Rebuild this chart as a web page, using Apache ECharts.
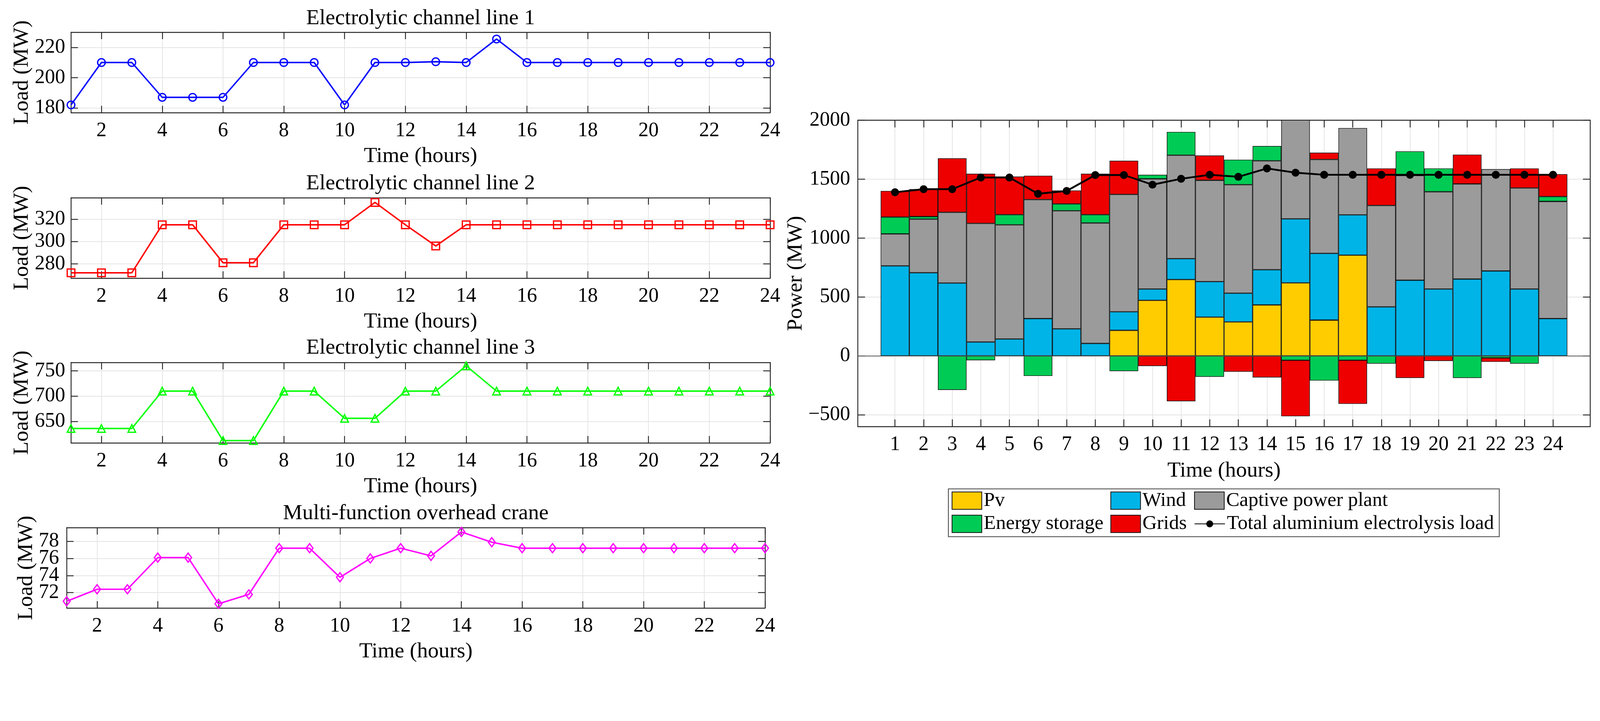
<!DOCTYPE html>
<html>
<head>
<meta charset="utf-8">
<title>Aluminium electrolysis load and power supply</title>
<script src="https://cdn.jsdelivr.net/npm/echarts@6/dist/echarts.min.js"></script>
<style>
  html, body { margin: 0; padding: 0; background: #fff; overflow: hidden; }
  #main { width: 100vw; height: 100vh; }
</style>
</head>
<body>
<div id="main"></div>
<script>
// ---- data ----
var hours = [1, 2, 3, 4, 5, 6, 7, 8, 9, 10, 11, 12, 13, 14, 15, 16, 17, 18, 19, 20, 21, 22, 23, 24];
var evenHours = [2, 4, 6, 8, 10, 12, 14, 16, 18, 20, 22, 24];

var line1Load = [182, 210, 210, 187, 187, 187, 210, 210, 210, 182, 210, 210, 210.5, 210, 225.5, 210, 210, 210, 210, 210, 210, 210, 210, 210];
var line2Load = [272, 272, 272, 315, 315, 281, 281, 315, 315, 315, 335, 315, 296, 315, 315, 315, 315, 315, 315, 315, 315, 315, 315, 315];
var line3Load = [636, 636, 636, 710, 710, 612, 612, 710, 710, 656, 656, 710, 710, 760, 710, 710, 710, 710, 710, 710, 710, 710, 710, 710];
var craneLoad = [71.0, 72.4, 72.4, 76.1, 76.1, 70.7, 71.8, 77.2, 77.2, 73.8, 76.0, 77.2, 76.3, 79.1, 77.9, 77.2, 77.2, 77.2, 77.2, 77.2, 77.2, 77.2, 77.2, 77.2];

var line1Ticks = [180, 200, 220];
var line2Ticks = [280, 300, 320];
var line3Ticks = [650, 700, 750];
var craneTicks = [72, 74, 76, 78];

var pv      = [0, 0, 0, 0, 0, 0, 0, 0, 217, 472, 648, 329, 289, 433, 620, 304, 855, 0, 0, 0, 0, 0, 0, 0];
var wind    = [764, 706, 618, 118, 144, 317, 230, 106, 158, 96, 177, 302, 243, 299, 543, 566, 342, 416, 642, 568, 652, 721, 568, 317];
var captive = [272, 455, 601, 1006, 969, 1009, 1002, 1022, 995, 935, 878, 859, 921, 924, 900, 797, 737, 861, 889, 825, 808, 864, 857, 994];
var storage = [142, 21, -289, -37, 86, -170, 58, 71, -129, 34, 198, -177, 212, 125, -37, -209, -37, -65, 205, 198, -187, -17, -65, 41];
var grids   = [222, 233, 458, 422, 323, 203, 114, 347, 286, -86, -385, 211, -134, -183, -475, 58, -370, 314, -187, -43, 248, -33, 166, 190];
var totalLoad = [1389, 1415, 1415, 1514, 1514, 1376, 1400, 1535, 1535, 1453, 1503, 1537, 1520, 1591, 1555, 1537, 1537, 1537, 1537, 1537, 1537, 1537, 1537, 1537];
var powerTicks = [-500, 0, 500, 1000, 1500, 2000];

// ---- layout is designed on a 4415 x 1847 canvas and scaled to the viewport ----
var k = Math.min(window.innerWidth / 4415, window.innerHeight / 1847);
function s(v) { return v * k; }

var FONT = 'Liberation Serif';
var frameColor = '#262626';
var gridColor = '#e4e4e4';
var TICK_FONT = 56, NAME_FONT = 60, TITLE_FONT = 60;

var chart = echarts.init(document.getElementById('main'));

function pairs(xs, ys) {
  return xs.map(function (x, i) { return [x, ys[i]]; });
}
// value first, hour second, so the stack is built on the value dimension
function valueFirst(xs, ys) {
  return xs.map(function (x, i) { return [ys[i], x]; });
}
function everyOther(arr, start) {
  return arr.filter(function (_, j) { return j % 2 === start; });
}

var panels = [
  { title: 'Electrolytic channel line 1', data: line1Load, ticks: line1Ticks, color: '#0000ff', symbol: 'circle', min: 176.9, max: 230, left: 196, top: 89, width: 1929, nameGap: 105, labelGap: 16, titleY: 51 },
  { title: 'Electrolytic channel line 2', data: line2Load, ticks: line2Ticks, color: '#ff0000', symbol: 'rect', min: 267.2, max: 339.2, left: 196, top: 546, width: 1929, nameGap: 105, labelGap: 16, titleY: 507 },
  { title: 'Electrolytic channel line 3', data: line3Load, ticks: line3Ticks, color: '#00ff00', symbol: 'triangle', min: 607.4, max: 766.5, left: 196, top: 1001, width: 1929, nameGap: 105, labelGap: 16, titleY: 961 },
  { title: 'Multi-function overhead crane', data: craneLoad, ticks: craneTicks, color: '#ff00ff', symbol: 'diamond', min: 70.2, max: 79.6, left: 184, top: 1457, width: 1927, nameGap: 78, labelGap: 21, titleY: 1418 }
];
var panelHeight = 222;

var grid = [], xAxis = [], yAxis = [], series = [], graphics = [], extraYAxis = [];

function frameLine() { return { show: true, onZero: false, lineStyle: { color: frameColor, width: s(2.5) } }; }
function tick(values, len) { return { show: true, inside: true, length: s(len), customValues: values, lineStyle: { color: frameColor, width: s(2.5) } }; }
function labelFont(size) { return { fontFamily: FONT, fontSize: s(size), color: '#000' }; }
function tickLabels(values, margin, size) {
  return Object.assign({
    customValues: values, margin: s(margin),
    hideOverlap: false, showMinLabel: true, showMaxLabel: true
  }, labelFont(size));
}

panels.forEach(function (p, i) {
  grid.push({ left: s(p.left), top: s(p.top), width: s(p.width), height: s(panelHeight), containLabel: false });

  xAxis.push({
    type: 'value', gridIndex: i, position: 'bottom', min: 1, max: 24,
    axisLine: frameLine(), axisTick: tick(evenHours, 19),
    axisLabel: tickLabels(evenHours, 22, TICK_FONT),
    splitLine: { show: true, lineStyle: { color: gridColor, width: s(2) } },
    name: 'Time (hours)', nameLocation: 'middle', nameGap: s(90),
    nameTextStyle: labelFont(NAME_FONT)
  });
  xAxis.push({
    type: 'value', gridIndex: i, position: 'top', min: 1, max: 24,
    axisLine: frameLine(), axisTick: tick(evenHours, 19),
    axisLabel: { show: false }, splitLine: { show: false }
  });
  // tightly packed tick labels are split over two coincident axes so none gets dropped
  yAxis.push({
    type: 'value', gridIndex: i, position: 'left', min: p.min, max: p.max,
    axisLine: frameLine(), axisTick: tick(p.ticks, 19),
    axisLabel: tickLabels(everyOther(p.ticks, 0), p.labelGap, TICK_FONT),
    splitLine: { show: true, lineStyle: { color: gridColor, width: s(2) } },
    name: 'Load (MW)', nameLocation: 'middle', nameRotate: 90, nameGap: s(p.nameGap),
    nameTextStyle: labelFont(NAME_FONT)
  });
  yAxis.push({
    type: 'value', gridIndex: i, position: 'right', min: p.min, max: p.max,
    axisLine: frameLine(), axisTick: tick(p.ticks, 19),
    axisLabel: { show: false }, splitLine: { show: false }
  });
  extraYAxis.push({
    type: 'value', gridIndex: i, position: 'left', offset: 0, min: p.min, max: p.max,
    axisLine: { show: false }, axisTick: { show: false }, splitLine: { show: false },
    axisLabel: tickLabels(everyOther(p.ticks, 1), p.labelGap, TICK_FONT)
  });

  series.push({
    type: 'line', name: p.title, xAxisIndex: 2 * i, yAxisIndex: 2 * i,
    data: pairs(hours, p.data),
    symbol: p.symbol, symbolSize: p.symbol === 'diamond' ? [s(19), s(25)] : s(21),
    itemStyle: { color: 'rgba(255,255,255,0)', borderColor: p.color, borderWidth: s(3.5) },
    lineStyle: { color: p.color, width: s(4) },
    emphasis: { disabled: true }, silent: true, z: 3
  });

  graphics.push({
    type: 'text', x: s(p.left + p.width / 2), y: s(p.titleY), silent: true,
    style: { text: p.title, fontFamily: FONT, fontSize: s(TITLE_FONT), fill: '#000', align: 'center', verticalAlign: 'middle' }
  });
});

// ---- right panel: stacked power supply ----
var R = { left: 2367, top: 332, width: 2021, height: 846 };
var xMinR = -0.3, xMaxR = 25.3;
var barW = s(R.width) / (xMaxR - xMinR);
grid.push({ left: s(R.left), top: s(R.top), width: s(R.width), height: s(R.height), containLabel: false });

xAxis.push({
  type: 'value', gridIndex: 4, position: 'bottom', min: xMinR, max: xMaxR,
  axisLine: frameLine(), axisTick: tick(hours, 20),
  axisLabel: tickLabels(hours, 22, TICK_FONT),
  splitLine: { show: true, lineStyle: { color: gridColor, width: s(2) } },
  name: 'Time (hours)', nameLocation: 'middle', nameGap: s(92),
  nameTextStyle: labelFont(NAME_FONT)
});
xAxis.push({
  type: 'value', gridIndex: 4, position: 'top', min: xMinR, max: xMaxR,
  axisLine: frameLine(), axisTick: tick(hours, 20),
  axisLabel: { show: false }, splitLine: { show: false }
});
var powerLabels = tickLabels(powerTicks, 21, TICK_FONT);
powerLabels.formatter = function (v) { return String(v).replace('-', '\u2212'); };
yAxis.push({
  type: 'value', gridIndex: 4, position: 'left', min: -600, max: 2000,
  axisLine: frameLine(), axisTick: tick(powerTicks, 20),
  axisLabel: powerLabels,
  splitLine: { show: true, lineStyle: { color: gridColor, width: s(2) } },
  name: 'Power (MW)', nameLocation: 'middle', nameRotate: 90, nameGap: s(136),
  nameTextStyle: labelFont(NAME_FONT)
});
yAxis.push({
  type: 'value', gridIndex: 4, position: 'right', min: -600, max: 2000,
  axisLine: frameLine(), axisTick: tick(powerTicks, 20),
  axisLabel: { show: false }, splitLine: { show: false }
});
yAxis = yAxis.concat(extraYAxis);

var barSeries = [
  { name: 'Pv', values: pv, color: '#ffcc00' },
  { name: 'Wind', values: wind, color: '#00b4e8' },
  { name: 'Captive power plant', values: captive, color: '#9b9b9b' },
  { name: 'Energy storage', values: storage, color: '#00cc55' },
  { name: 'Grids', values: grids, color: '#ee0000' }
];
barSeries.forEach(function (b, idx) {
  var ser = {
    type: 'bar', name: b.name, xAxisIndex: 8, yAxisIndex: 8,
    stack: 'power', stackStrategy: 'samesign',
    encode: { x: 1, y: 0 },
    barWidth: barW, data: valueFirst(hours, b.values),
    itemStyle: { color: b.color, borderColor: '#111', borderWidth: s(1.5) },
    emphasis: { disabled: true }, silent: true
  };
  if (idx === 0) {
    ser.markLine = {
      silent: true, symbol: 'none', label: { show: false },
      lineStyle: { color: '#555', width: s(2), type: 'solid' },
      data: [{ yAxis: 0 }]
    };
  }
  series.push(ser);
});
series.push({
  type: 'line', name: 'Total aluminium electrolysis load', xAxisIndex: 8, yAxisIndex: 8,
  data: pairs(hours, totalLoad),
  symbol: 'circle', symbolSize: s(22),
  itemStyle: { color: '#000' }, lineStyle: { color: '#000', width: s(5) },
  emphasis: { disabled: true }, silent: true, z: 5
});

// ---- legend: three columns of two rows in one frame ----
function legendItem(name, left, top, isLine) {
  var item = { name: name };
  if (!isLine) item.icon = 'rect';
  return {
    data: [item],
    left: s(left), top: s(top), orient: 'horizontal', padding: 0, itemGap: 0,
    itemWidth: s(isLine ? 84 : 82), itemHeight: s(isLine ? 24 : 48),
    selectedMode: false,
    textStyle: labelFont(55)
  };
}
var legend = [
  legendItem('Pv', 2626, 1355),
  legendItem('Energy storage', 2626, 1419),
  legendItem('Wind', 3064, 1355),
  legendItem('Grids', 3064, 1419),
  legendItem('Captive power plant', 3295, 1355),
  legendItem('Total aluminium electrolysis load', 3295, 1419, true)
];
graphics.push({
  type: 'rect', silent: true, z: -1,
  shape: { x: s(2617), y: s(1350), width: s(1520), height: s(132) },
  style: { fill: '#fff', stroke: '#555', lineWidth: s(2.5) }
});

chart.setOption({
  animation: false,
  backgroundColor: '#fff',
  textStyle: { fontFamily: FONT },
  grid: grid,
  xAxis: xAxis,
  yAxis: yAxis,
  legend: legend,
  graphic: graphics,
  series: series
});
window.addEventListener('resize', function () { chart.resize(); });
</script>
</body>
</html>
